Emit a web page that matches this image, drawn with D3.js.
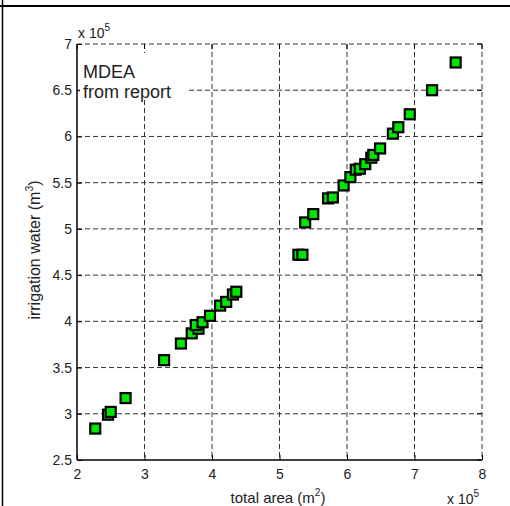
<!DOCTYPE html>
<html>
<head>
<meta charset="utf-8">
<script src="https://cdn.jsdelivr.net/npm/d3@7"></script>
<style>
  html, body { margin: 0; padding: 0; background: #fff; }
  svg { display: block; }
  text { font-family: "Liberation Sans", Arial, sans-serif; fill: #222; }
</style>
</head>
<body>
<svg id="chart" width="510" height="506"></svg>
<script>
// total area (x 1e5 m^2)
const totalArea = [2.27, 2.46, 2.50, 2.72, 3.29, 3.54, 3.70, 3.80, 3.76, 3.86, 3.97, 4.12, 4.21, 4.31, 4.36,
  5.28, 5.34, 5.38, 5.50, 5.72, 5.79, 5.95, 6.05, 6.13, 6.19, 6.27, 6.36, 6.39, 6.49, 6.68, 6.76, 6.93, 7.26, 7.61];
// irrigation water (x 1e5 m^3)
const irrigationWater = [2.84, 2.99, 3.02, 3.17, 3.58, 3.76, 3.87, 3.92, 3.96, 3.99, 4.06, 4.17, 4.21, 4.29, 4.32,
  4.72, 4.72, 5.07, 5.16, 5.33, 5.34, 5.47, 5.56, 5.64, 5.65, 5.70, 5.77, 5.80, 5.87, 6.03, 6.10, 6.24, 6.50, 6.80];
const xTicks = [2, 3, 4, 5, 6, 7, 8];
const yTicks = [2.5, 3, 3.5, 4, 4.5, 5, 5.5, 6, 6.5, 7];
const legendLines = ["MDEA", "from report"];

const svg = d3.select("#chart");
const W = 510, H = 506;
const mLeft = 77, mRight = 482, mTop = 44, mBottom = 460;

const x = d3.scaleLinear().domain([2, 8]).range([mLeft, mRight]);
const y = d3.scaleLinear().domain([2.5, 7]).range([mBottom, mTop]);

// page frame lines
svg.append("line").attr("x1", 0).attr("x2", W).attr("y1", 6).attr("y2", 6)
  .attr("stroke", "#000").attr("stroke-width", 2);
svg.append("line").attr("x1", 2.5).attr("x2", 2.5).attr("y1", 0).attr("y2", H)
  .attr("stroke", "#000").attr("stroke-width", 1.5);

// dashed grid (includes the top and right edges of the box)
const grid = svg.append("g").attr("stroke", "#333").attr("stroke-width", 1)
  .attr("stroke-dasharray", "5,3").attr("fill", "none");
xTicks.forEach(v => {
  if (v === 2) return;
  grid.append("line").attr("x1", x(v)).attr("x2", x(v)).attr("y1", mTop).attr("y2", mBottom);
});
yTicks.forEach(v => {
  if (v === 2.5) return;
  grid.append("line").attr("x1", mLeft).attr("x2", mRight).attr("y1", y(v)).attr("y2", y(v));
});

// axes: bottom and left solid, inward ticks
const xAxis = d3.axisBottom(x).tickValues(xTicks).tickSize(-5).tickPadding(9).tickFormat(d3.format("d"));
const yAxis = d3.axisLeft(y).tickValues(yTicks).tickSize(-5).tickPadding(5).tickFormat(d => String(d));
const gx = svg.append("g").attr("transform", `translate(0,${mBottom})`).call(xAxis);
const gy = svg.append("g").attr("transform", `translate(${mLeft},0)`).call(yAxis);
[gx, gy].forEach(g => {
  g.select(".domain").attr("stroke", "#000").attr("stroke-width", 1.5);
  g.selectAll(".tick line").attr("stroke", "#000");
  g.selectAll(".tick text").attr("font-size", 14).attr("fill", "#333")
    .attr("font-family", "Liberation Sans, Arial, sans-serif");
});
gx.select(".domain").attr("d", `M${mLeft},0H${mRight}`);
gy.select(".domain").attr("d", `M0,${mTop}V${mBottom}`);

// mirrored ticks on top and right edges
const mt = svg.append("g").attr("stroke", "#000").attr("stroke-width", 1);
xTicks.forEach(v => mt.append("line").attr("x1", x(v)).attr("x2", x(v)).attr("y1", mTop).attr("y2", mTop + 5));
yTicks.forEach(v => mt.append("line").attr("x1", mRight).attr("x2", mRight - 5).attr("y1", y(v)).attr("y2", y(v)));

// legend box
const lg = svg.append("g");
lg.append("rect").attr("x", 80).attr("y", 53).attr("width", 106).attr("height", 46).attr("fill", "#fff");
legendLines.forEach((t, i) => {
  lg.append("text").attr("x", 83).attr("y", 78 + i * 20).attr("font-size", 18)
    .attr("font-family", "Lato, sans-serif").text(t);
});

// data points
svg.append("g").selectAll("rect").data(totalArea.map((a, i) => [a, irrigationWater[i]]))
  .join("rect")
  .attr("x", d => x(d[0]) - 5).attr("y", d => y(d[1]) - 5)
  .attr("width", 10).attr("height", 10)
  .attr("fill", "#00e600").attr("stroke", "#000").attr("stroke-width", 2.2);

// exponent labels
const exp = (tx, ty) => {
  const t = svg.append("text").attr("x", tx).attr("y", ty).attr("font-size", 14).attr("fill", "#333");
  t.append("tspan").text("x 10");
  t.append("tspan").attr("dy", -7).attr("font-size", 10).text("5");
};
exp(78, 38);
exp(447, 504);

// axis titles
const xt = svg.append("text").attr("x", 278).attr("y", 503).attr("text-anchor", "middle").attr("font-size", 15);
xt.append("tspan").text("total area (m");
xt.append("tspan").attr("dy", -7).attr("font-size", 10).text("2");
xt.append("tspan").attr("dy", 7).text(")");

const yt = svg.append("text").attr("transform", "translate(40,250) rotate(-90)")
  .attr("text-anchor", "middle").attr("font-size", 16);
yt.append("tspan").text("irrigation water (m");
yt.append("tspan").attr("dy", -7).attr("font-size", 10.5).text("3");
yt.append("tspan").attr("dy", 7).text(")");
</script>
</body>
</html>
